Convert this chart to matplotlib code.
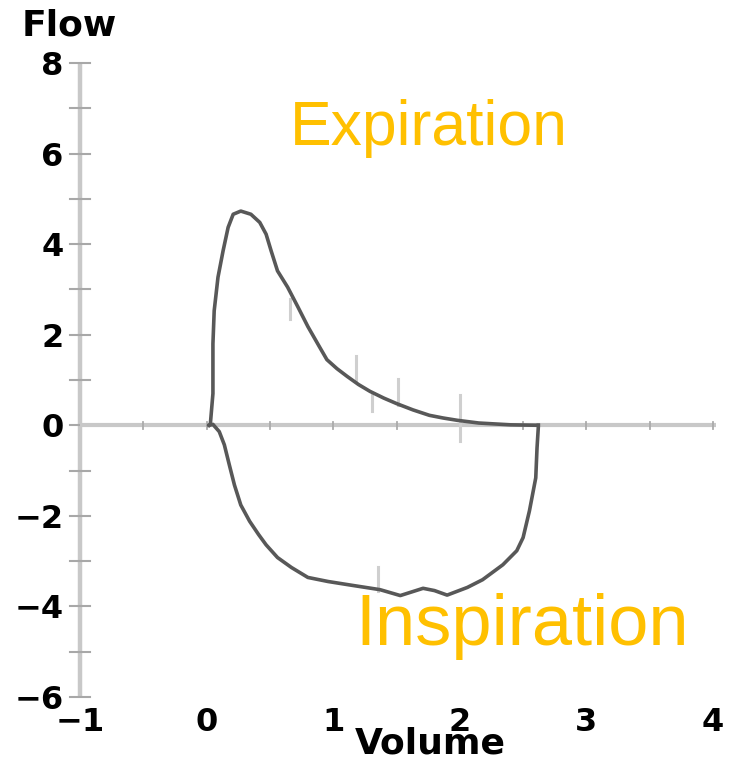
import numpy as np
import matplotlib
matplotlib.use("Agg")
import matplotlib.pyplot as plt

# expiration branch (volume, flow)
exp_vol = [0.02, 0.03, 0.05, 0.05, 0.06, 0.09, 0.13, 0.17, 0.21, 0.27, 0.35,
           0.42, 0.47, 0.51, 0.56, 0.64, 0.72, 0.80, 0.89, 0.95, 1.03, 1.11,
           1.20, 1.29, 1.40, 1.50, 1.63, 1.76, 1.87, 1.98, 2.15, 2.40, 2.62]
exp_flow = [0.0, 0.04, 0.70, 1.80, 2.53, 3.27, 3.85, 4.37, 4.66, 4.73, 4.66,
            4.48, 4.22, 3.85, 3.41, 3.05, 2.62, 2.18, 1.74, 1.45, 1.25, 1.08,
            0.90, 0.75, 0.60, 0.48, 0.34, 0.22, 0.16, 0.11, 0.05, 0.01, 0.0]

# inspiration branch
insp_vol = [0.02, 0.05, 0.10, 0.14, 0.18, 0.22, 0.27, 0.34, 0.41, 0.47, 0.56,
            0.67, 0.80, 0.96, 1.14, 1.37, 1.53, 1.62, 1.71, 1.80, 1.90, 2.06,
            2.18, 2.34, 2.45, 2.50, 2.55, 2.60, 2.61, 2.62, 2.62]
insp_flow = [0.0, 0.02, -0.14, -0.43, -0.88, -1.32, -1.76, -2.12, -2.41,
             -2.64, -2.92, -3.14, -3.36, -3.45, -3.53, -3.63, -3.76, -3.68,
             -3.60, -3.65, -3.75, -3.58, -3.41, -3.08, -2.77, -2.48, -1.89,
             -1.16, -0.50, -0.05, 0.0]

# little time markers on the trace (volume, flow low, flow high)
mark_vol = [0.66, 1.18, 1.31, 1.51, 2.00, 1.35]
mark_lo = [2.35, 0.99, 0.31, 0.44, -0.35, -3.65]
mark_hi = [2.79, 1.52, 0.70, 1.03, 0.66, -3.14]

y_ticks = [-6, -4, -2, 0, 2, 4, 6, 8]
x_ticks = [-1, 0, 1, 2, 3, 4]

fig = plt.figure(figsize=(7.31, 7.58), dpi=100)
W, H = 731, 758
ax = fig.add_axes([80 / W, 1 - 697 / H, (713 - 80) / W, (697 - 63) / H])
ax.set_xlim(-1, 4)
ax.set_ylim(-6, 8)
for s in ax.spines.values():
    s.set_visible(False)

axis_col = "#c8c8c8"
# vertical axis and its marks
ax.plot([-1, -1], [-6, 8], color=axis_col, lw=3.2, solid_capstyle="butt",
        zorder=1, clip_on=False)
for v in range(-6, 9):
    ax.plot([-1.08, -0.92], [v, v], color="#a8a8a8", lw=1.5, zorder=1,
            clip_on=False)
# zero line with half-litre marks
ax.plot([-1, 4.02], [0, 0], color=axis_col, lw=3, solid_capstyle="butt",
        zorder=1, clip_on=False)
for v in np.arange(-0.5, 4.01, 0.5):
    ax.plot([v, v], [-0.08, 0.08], color="#ababab", lw=1.3, zorder=1,
            clip_on=False)

for v, lo, hi in zip(mark_vol, mark_lo, mark_hi):
    ax.plot([v, v], [lo, hi], color="#cfcfcf", lw=2.2, zorder=2)

ax.plot(exp_vol, exp_flow, color="#585858", lw=2.6, zorder=3,
        solid_joinstyle="round")
ax.plot(insp_vol, insp_flow, color="#585858", lw=2.6, zorder=3,
        solid_joinstyle="round")

ax.set_yticks(y_ticks)
ax.set_yticklabels([f"{t}".replace("-", "\u2212") for t in y_ticks])
ax.set_xticks(x_ticks)
ax.set_xticklabels([f"{t}".replace("-", "\u2212") for t in x_ticks])
ax.tick_params(axis="y", length=0, pad=12, labelsize=23)
ax.tick_params(axis="x", length=0, pad=7, labelsize=23)
for lab in ax.get_xticklabels() + ax.get_yticklabels():
    lab.set_fontweight("heavy")
    lab.set_family("DejaVu Sans")

fig.text(22 / W, 1 - 35 / H, "Flow", fontsize=26, fontweight="heavy",
         family="DejaVu Sans", ha="left", va="baseline")
fig.text(430 / W, 1 - 753 / H, "Volume", fontsize=26, fontweight="heavy",
         family="DejaVu Sans", ha="center", va="baseline")

gold = "#FFC000"
fig.text(290 / W, 1 - 145 / H, "Expiration", fontsize=45, color=gold,
         family="Liberation Sans", ha="left", va="baseline")
fig.text(355 / W, 1 - 645 / H, "Inspiration", fontsize=52, color=gold,
         family="Liberation Sans", ha="left", va="baseline")

fig.savefig("out.png", dpi=100)
